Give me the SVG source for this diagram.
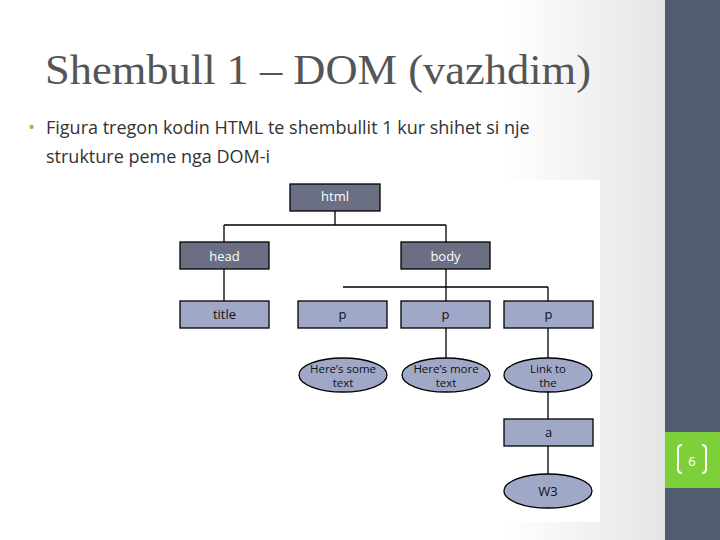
<svg xmlns="http://www.w3.org/2000/svg" width="720" height="540" viewBox="0 0 720 540">
<defs>
<linearGradient id="bg" x1="0" y1="0" x2="1" y2="0">
<stop offset="0" stop-color="#ffffff"/><stop offset="0.7" stop-color="#ffffff"/><stop offset="1" stop-color="#dcdcdc"/>
</linearGradient>
<style>
.dk{fill:#6b6f84;stroke:#000;stroke-width:1.3}
.lt{fill:#a0a8c8;stroke:#000;stroke-width:1.3}
.tw{font-family:"Open Sans","DejaVu Sans",sans-serif;font-size:13px;fill:#fff;text-anchor:middle}
.tb{font-family:"Open Sans","DejaVu Sans",sans-serif;font-size:13px;fill:#111;text-anchor:middle}
.te{font-family:"Open Sans","DejaVu Sans",sans-serif;font-size:11.5px;fill:#111;text-anchor:middle}
</style>
</defs>
<rect width="720" height="540" fill="url(#bg)"/>
<rect x="170" y="180" width="430" height="342" fill="#fff"/>
<rect x="665" y="0" width="55" height="540" fill="#515c6e"/>
<rect x="665" y="432" width="55" height="56" fill="#7ed03b"/>
<text x="692" y="466" font-family="Open Sans,sans-serif" font-size="13" fill="#fff" text-anchor="middle">6</text>
<path d="M682 445 q-4 0 -4 4 v20 q0 4 4 4 M702 445 q4 0 4 4 v20 q0 4 -4 4" fill="none" stroke="#fff" stroke-width="2"/>
<text x="45" y="84" font-family="Liberation Serif,serif" font-size="42" fill="#555" textLength="546" lengthAdjust="spacingAndGlyphs">Shembull 1 – DOM (vazhdim)</text>
<text x="28" y="134" font-family="Open Sans,sans-serif" font-size="19" fill="#7ed03b">•</text>
<text font-family="Open Sans,sans-serif" font-size="18" fill="#333"><tspan x="46" y="134">Figura tregon kodin HTML te shembullit 1 kur shihet si nje</tspan><tspan x="46" y="163">strukture peme nga DOM-i</tspan></text>
<g id="connectors" stroke="#000" stroke-width="1.3" fill="none">
<path d="M335 211V225M224 225H446M224 225V242M446 225V242M224 269V301M446 269V301M343 287H548M548 287V301M446 328V358M548 328V358M548 392V419M548 446V474"/>
</g>
<g id="html"><rect class="dk" x="290" y="184" width="90" height="27"/><text class="tw" x="335" y="201">html</text></g>
<g id="head"><rect class="dk" x="180" y="242" width="89" height="27"/><text class="tw" x="224.5" y="261">head</text></g>
<g id="body"><rect class="dk" x="401" y="242" width="89" height="27"/><text class="tw" x="445.5" y="261">body</text></g>
<g id="title"><rect class="lt" x="180" y="301" width="89" height="27"/><text class="tb" x="224.5" y="319">title</text></g>
<g id="p1"><rect class="lt" x="298" y="301" width="89" height="27"/><text class="tb" x="342.5" y="319">p</text></g>
<g id="p2"><rect class="lt" x="401" y="301" width="89" height="27"/><text class="tb" x="445.5" y="319">p</text></g>
<g id="p3"><rect class="lt" x="504" y="301" width="89" height="27"/><text class="tb" x="548.5" y="319">p</text></g>
<g id="t1"><ellipse class="lt" cx="343" cy="375" rx="44" ry="17"/><text class="te" x="343" y="373">Here’s some</text><text class="te" x="343" y="387">text</text></g>
<g id="t2"><ellipse class="lt" cx="446" cy="375" rx="44" ry="17"/><text class="te" x="446" y="373">Here’s more</text><text class="te" x="446" y="387">text</text></g>
<g id="t3"><ellipse class="lt" cx="548" cy="375" rx="44" ry="17"/><text class="te" x="548" y="373">Link to</text><text class="te" x="548" y="387">the</text></g>
<g id="a"><rect class="lt" x="504" y="419" width="89" height="27"/><text class="tb" x="548.5" y="437">a</text></g>
<g id="w3"><ellipse class="lt" cx="548" cy="491" rx="44" ry="17"/><text class="tb" x="548" y="496">W3</text></g>
</svg>
